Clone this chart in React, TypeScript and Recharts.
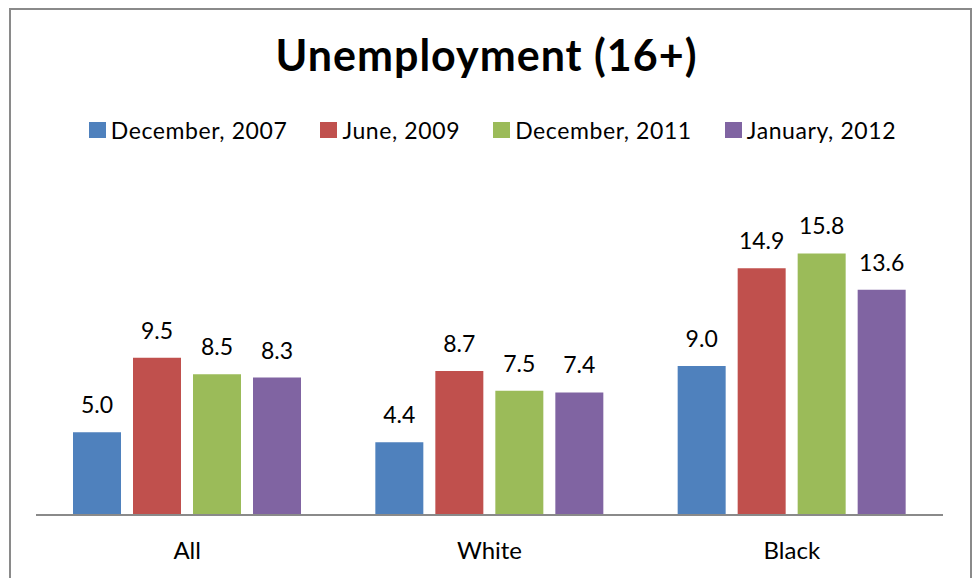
import { Bar, BarChart, LabelList, Legend, XAxis, YAxis } from "recharts"

const groups = ["All", "White", "Black"]
const seriesNames = ["December, 2007", "June, 2009", "December, 2011", "January, 2012"]
const dec2007 = [5.0, 4.4, 9.0]
const jun2009 = [9.5, 8.7, 14.9]
const dec2011 = [8.5, 7.5, 15.8]
const jan2012 = [8.3, 7.4, 13.6]
const colors = ["#4F81BD", "#C0504D", "#9BBB59", "#8064A2"]

const data = groups.map((g, i) => ({
  name: g,
  s0: dec2007[i],
  s1: jun2009[i],
  s2: dec2011[i],
  s3: jan2012[i],
}))

const font = "Lato, 'Noto Sans', sans-serif"

// drawn in series order (recharts sorts legend payload by default)
function LegendContent() {
  return (
    <div style={{ display: "flex", justifyContent: "center", gap: 33, fontFamily: font, fontSize: 23, letterSpacing: 0.6, color: "#000", paddingLeft: 6 }}>
      {seriesNames.map((name, i) => (
        <div key={name} style={{ display: "flex", alignItems: "center" }}>
          <span style={{ width: 17, height: 16, background: colors[i], display: "inline-block", marginRight: 5 }} />
          <span>{name}</span>
        </div>
      ))}
    </div>
  )
}

export default function App() {
  return (
    <div style={{ position: "absolute", left: 0, top: 0, width: 979, height: 578, overflow: "hidden", background: "#fff" }}>
      <div
        style={{
          position: "absolute",
          left: 9,
          top: 8,
          width: 963,
          height: 640,
          border: "2px solid #8a8a8a",
          boxSizing: "border-box",
        }}
      />
      <div
        style={{
          position: "absolute",
          left: 0,
          width: 973,
          top: 29,
          textAlign: "center",
          fontFamily: font,
          fontWeight: 700,
          fontSize: 43,
          letterSpacing: 1,
          lineHeight: "normal",
          color: "#000",
        }}
      >
        Unemployment (16+)
      </div>
      <div style={{ position: "absolute", left: 0, top: 0 }}>
        <BarChart width={979} height={578} data={data} margin={{ top: 217, right: 36, bottom: 0, left: 36 }} barGap={12} barSize={48}>
          <XAxis
            dataKey="name"
            height={63}
            tickLine={false}
            axisLine={{ stroke: "#8a8a8a", strokeWidth: 2 }}
            tick={{ fill: "#000", fontSize: 24, fontFamily: font }}
            tickMargin={21}
          />
          <YAxis hide domain={[0, 18]} />
          <Legend
            layout="horizontal"
            verticalAlign="middle"
            align="center"
            wrapperStyle={{ top: 116, left: 0, width: 979 }}
            content={<LegendContent />}
          />
          {["s0", "s1", "s2", "s3"].map((k, i) => (
            <Bar key={k} dataKey={k} name={seriesNames[i]} fill={colors[i]} isAnimationActive={false}>
              <LabelList
                dataKey={k}
                position="top"
                offset={19}
                formatter={(v: any) => Number(v).toFixed(1)}
                style={{ fill: "#000", fontSize: 23, fontFamily: font }}
              />
            </Bar>
          ))}
        </BarChart>
      </div>
    </div>
  )
}
